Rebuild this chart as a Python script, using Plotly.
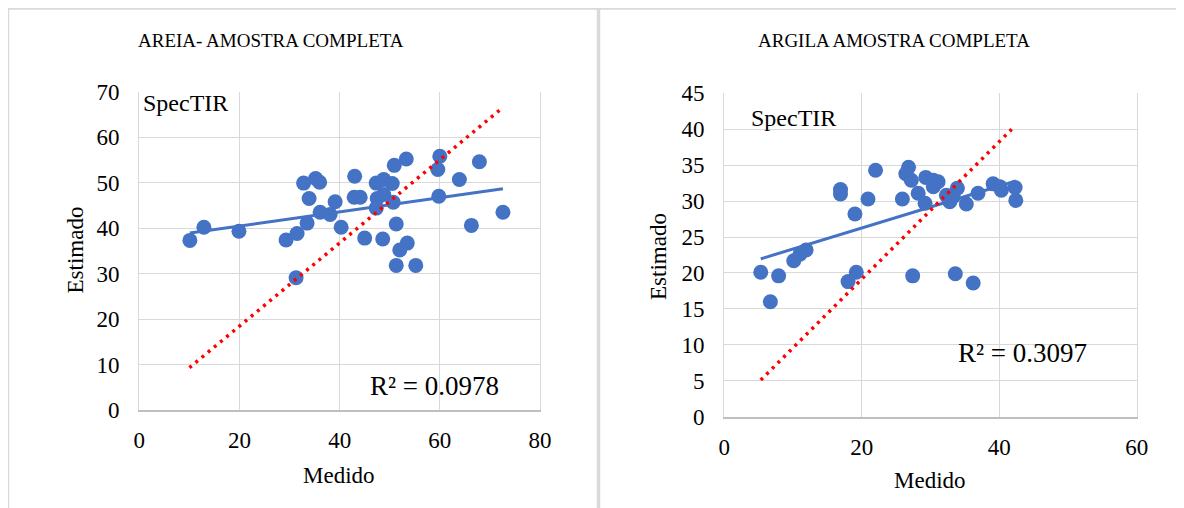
import numpy as np
import plotly.graph_objects as go

# page body has an 8px margin; figure fills the rest of the 1184x508 window
OFF = 8
W, H = 1184 - OFF, 508 - OFF
FONT = "'Times New Roman', 'Liberation Serif', 'DejaVu Serif', serif"
BLUE = "#4472C4"

# ---- Data: AREIA (sand) ----
areia_medido = [10.1, 12.9, 19.9, 29.3, 31.5, 33.5, 31.3, 32.8, 35.2, 36.0, 33.9, 39.1,
                36.1, 38.1, 40.3, 43.0, 42.9, 44.1, 45.0, 47.3, 48.8, 50.5, 47.5, 48.8,
                47.3, 50.7, 48.6, 50.9, 53.3, 51.3, 53.5, 52.0, 51.3, 55.2, 60.0, 59.6,
                59.8, 63.9, 67.9, 66.3, 72.6]
areia_estimado = [37.3, 40.2, 39.3, 37.4, 38.8, 41.1, 29.1, 49.9, 50.9, 50.1, 46.5, 45.8,
                  43.5, 43.0, 40.2, 51.4, 46.8, 46.8, 37.8, 49.9, 50.7, 49.8, 46.5, 47.4,
                  44.4, 45.7, 37.6, 53.8, 55.2, 40.9, 36.7, 35.2, 31.8, 31.8, 55.8, 52.9,
                  47.0, 50.7, 54.6, 40.6, 43.5]
areia_ref_x = [10.0, 72.0]
areia_ref_y = [9.3, 66.0]

# ---- Data: ARGILA (clay) ----
argila_medido = [5.3, 6.7, 7.9, 10.1, 11.0, 11.9, 16.9, 16.9, 19.0, 20.9, 22.0, 19.2,
                 18.0, 25.9, 26.8, 26.4, 27.2, 28.2, 29.2, 29.3, 30.4, 31.1, 30.4, 32.3,
                 32.8, 33.9, 33.3, 35.2, 36.9, 39.1, 40.1, 40.3, 42.3, 42.4, 27.4, 33.6,
                 36.2]
argila_estimado = [20.1, 16.0, 19.6, 21.7, 22.6, 23.2, 31.6, 31.0, 28.2, 30.3, 34.3, 20.1,
                   18.8, 30.3, 34.7, 33.8, 32.9, 31.1, 29.7, 33.3, 32.9, 32.7, 32.0, 30.8,
                   29.9, 31.8, 30.6, 29.6, 31.1, 32.4, 32.0, 31.5, 31.9, 30.1, 19.6, 19.9,
                   18.6]
argila_ref_x = [5.3, 41.8]
argila_ref_y = [5.1, 40.0]

titles = ["AREIA- AMOSTRA COMPLETA", "ARGILA AMOSTRA COMPLETA"]
r2_labels = ["R² = 0.0978", "R² = 0.3097"]
x_label = "Medido"
y_label = "Estimado"
tag = "SpecTIR"


def px(x):
    return (x - OFF) / W


def py(y):
    return 1 - (y - OFF) / H


fig = go.Figure()


def add_panel(xs, ys, rx, ry, xa, ya):
    fig.add_trace(go.Scatter(x=xs, y=ys, mode="markers", xaxis=xa, yaxis=ya,
                             marker=dict(color=BLUE, size=15, line=dict(width=0)),
                             showlegend=False))
    a, b = np.polyfit(xs, ys, 1)
    tx = np.array([min(xs), max(xs)])
    fig.add_trace(go.Scatter(x=tx, y=a * tx + b, mode="lines", xaxis=xa, yaxis=ya,
                             line=dict(color=BLUE, width=3), showlegend=False))
    fig.add_trace(go.Scatter(x=rx, y=ry, mode="lines", xaxis=xa, yaxis=ya,
                             line=dict(color="#FF0000", width=3.5, dash="3px,5px"),
                             showlegend=False))


add_panel(areia_medido, areia_estimado, areia_ref_x, areia_ref_y, "x", "y")
add_panel(argila_medido, argila_estimado, argila_ref_x, argila_ref_y, "x2", "y2")

tickfont = dict(family=FONT, size=23, color="black")
common_x = dict(showgrid=True, gridcolor="#d9d9d9", gridwidth=1.3, zeroline=False,
                showline=True, linecolor="#bfbfbf", linewidth=1.5, ticks="",
                tickfont=tickfont, ticklabelstandoff=9, fixedrange=True, automargin=False)
common_y = dict(showgrid=True, gridcolor="#d9d9d9", gridwidth=1.3, zeroline=False,
                showline=True, linecolor="#d9d9d9", linewidth=1.3, mirror=True, ticks="",
                tickfont=tickfont, ticklabelstandoff=14, fixedrange=True, automargin=False)

fig.update_layout(
    width=W, height=H,
    autosize=False,
    margin=dict(l=0, r=0, t=0, b=0, pad=0, autoexpand=False),
    paper_bgcolor="white", plot_bgcolor="white",
    showlegend=False,
    font=dict(family=FONT, color="black"),
    xaxis=dict(domain=[px(139.3), px(540)], range=[0, 80], dtick=20, anchor="y", **common_x),
    yaxis=dict(domain=[py(410), py(91.7)], range=[0, 70], dtick=10, anchor="x", **common_y),
    xaxis2=dict(domain=[px(724.3), px(1136.8)], range=[0, 60], dtick=20, anchor="y2", **common_x),
    yaxis2=dict(domain=[py(416.7), py(93.3)], range=[0, 45], dtick=5, anchor="x2", **common_y),
)

# panel borders
border = "#d9d9d9"
fig.add_shape(type="line", xref="paper", yref="paper", x0=px(8), x1=1, y0=py(8.8), y1=py(8.8),
              line=dict(color=border, width=2))
fig.add_shape(type="line", xref="paper", yref="paper", x0=px(8.2), x1=px(8.2), y0=py(8), y1=0,
              line=dict(color=border, width=2))
fig.add_shape(type="line", xref="paper", yref="paper", x0=px(598.5), x1=px(598.5), y0=py(8), y1=0,
              line=dict(color=border, width=3.5))


def ann(text, x, y, size, angle=0):
    fig.add_annotation(text=text, xref="paper", yref="paper", x=px(x), y=py(y),
                       xanchor="center", yanchor="middle", showarrow=False, textangle=angle,
                       font=dict(family=FONT, size=size, color="black"))


ann(titles[0], 271, 40, 19)
ann(titles[1], 894, 40, 19)
ann(tag, 185, 103, 24)
ann(tag, 793, 118, 24)
ann(r2_labels[0], 434, 386, 27)
ann(r2_labels[1], 1022, 353, 27)
ann(x_label, 339, 475, 23)
ann(x_label, 930, 480, 23)
ann(y_label, 74.5, 250, 23, -90)
ann(y_label, 658, 257, 23, -90)

fig.write_html("out.html")
